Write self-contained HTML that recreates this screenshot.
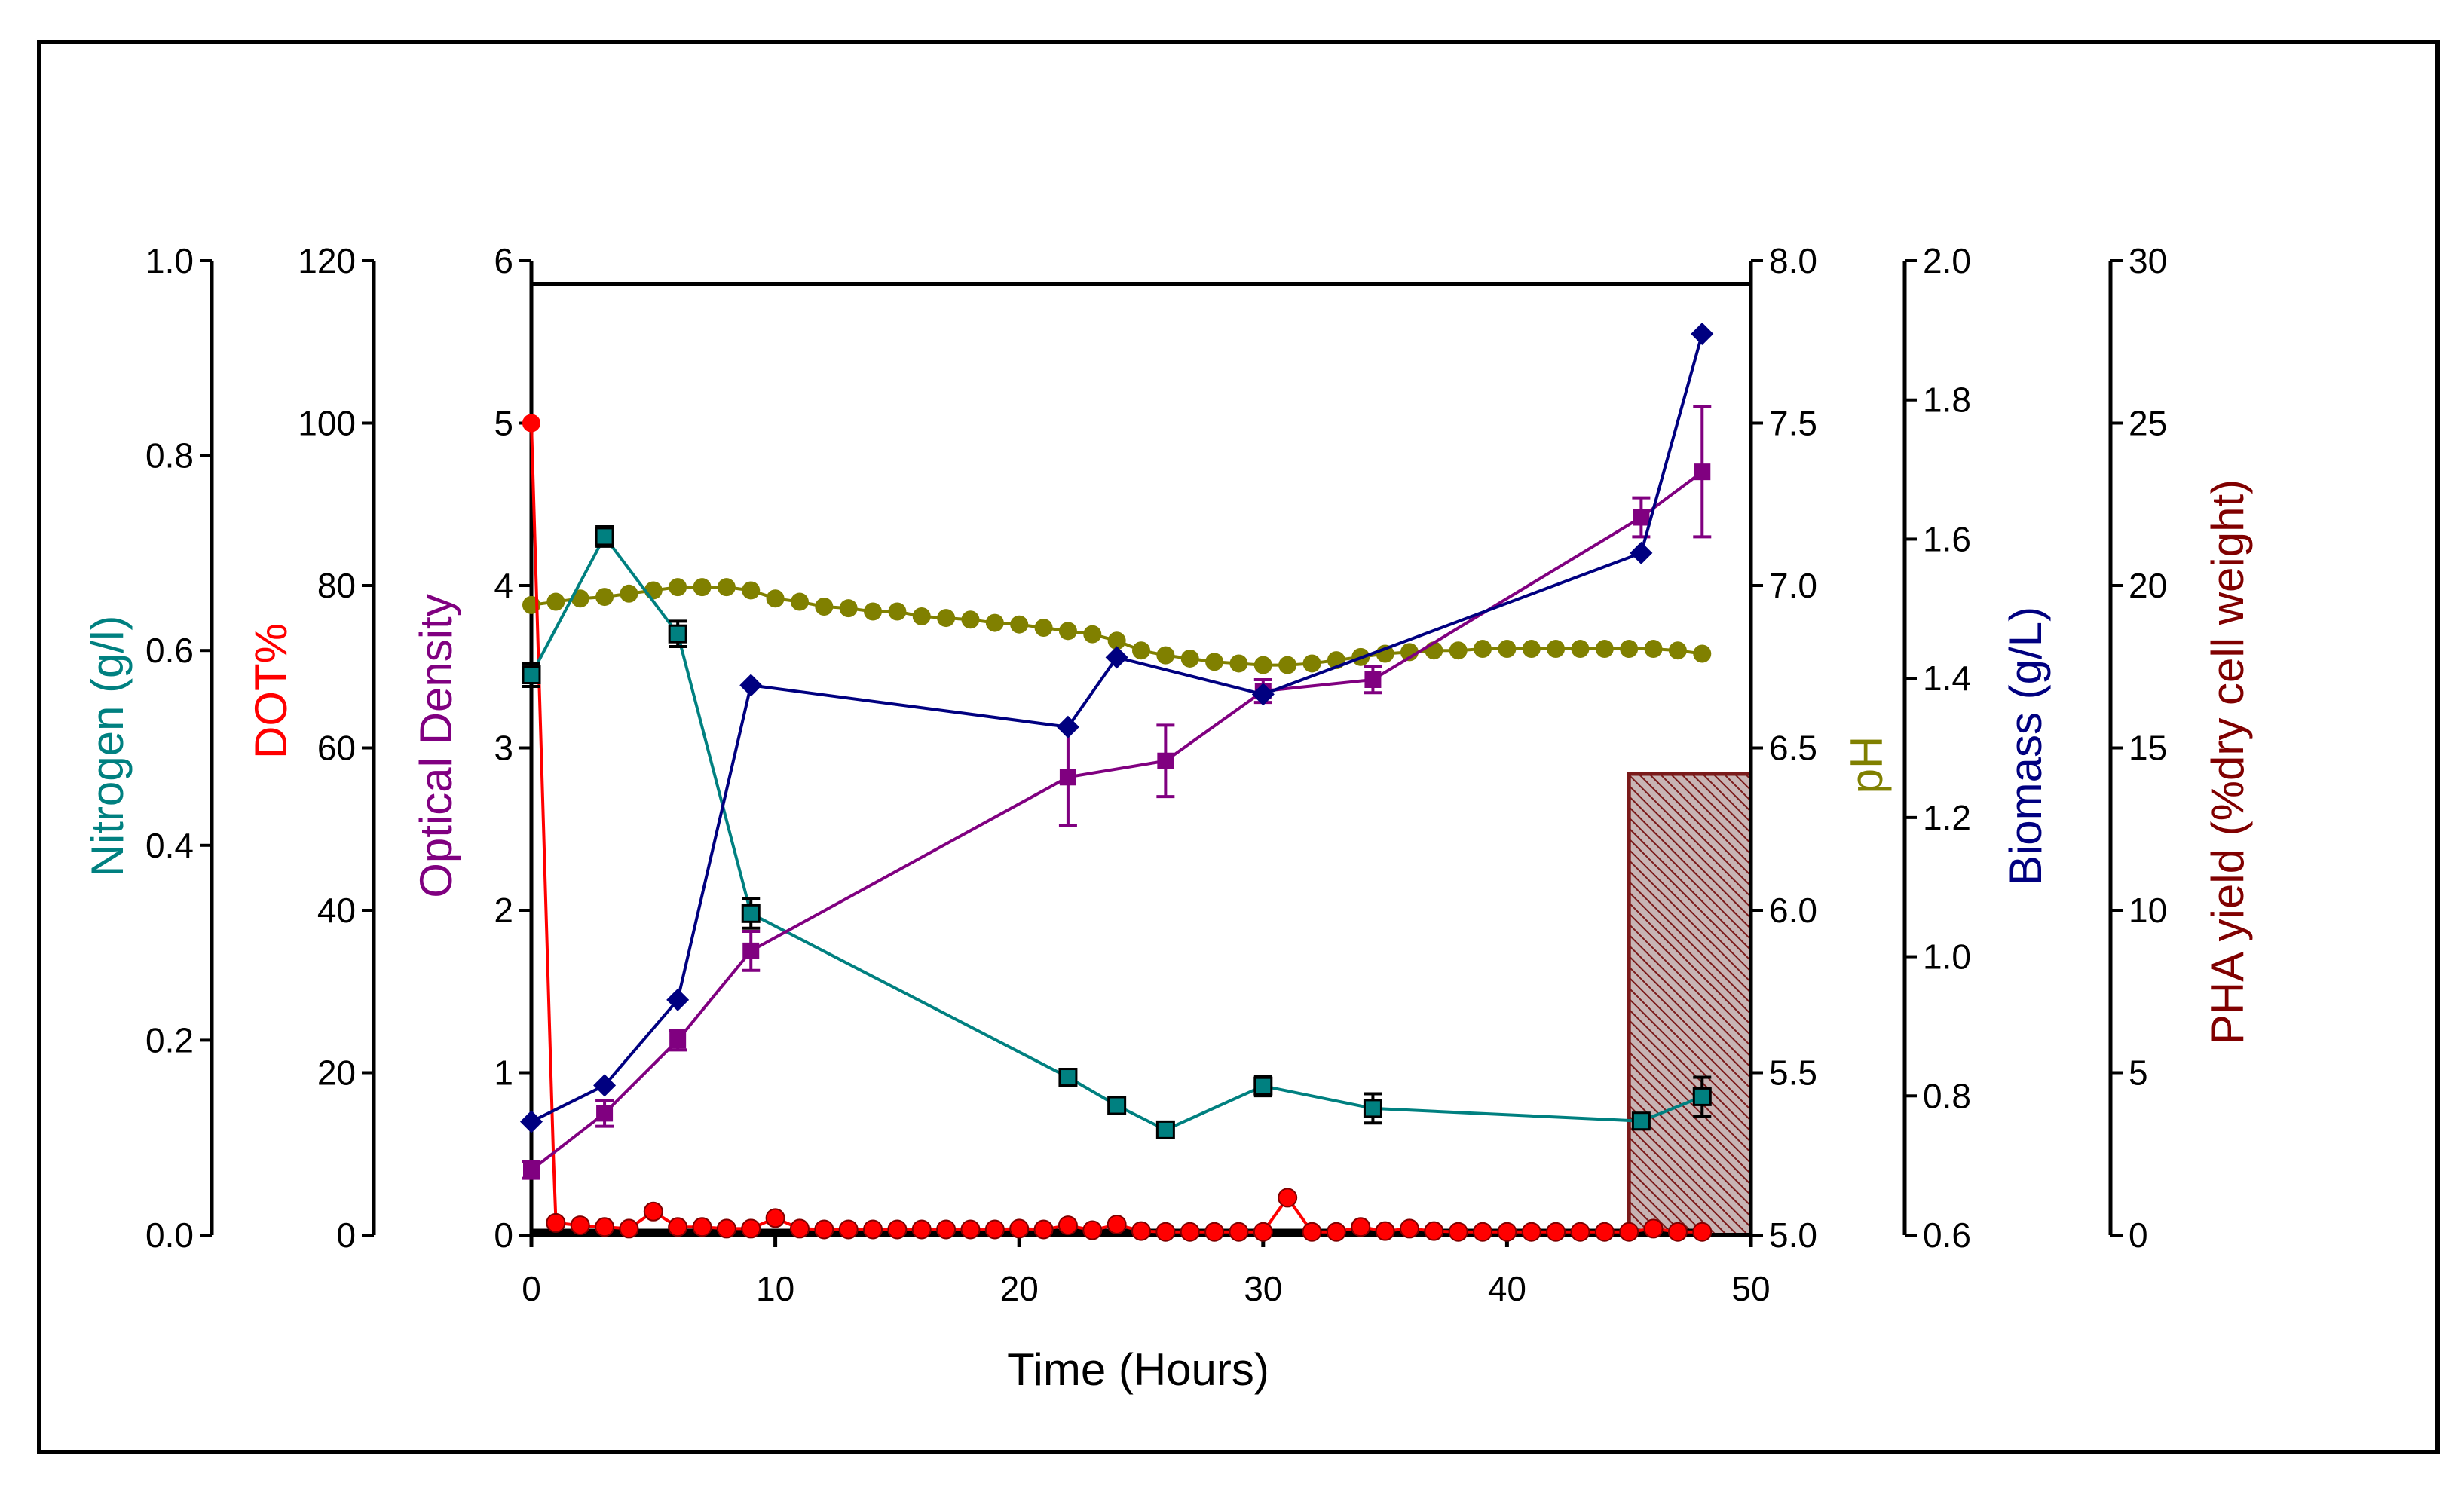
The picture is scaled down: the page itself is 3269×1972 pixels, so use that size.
<!DOCTYPE html>
<html><head><meta charset="utf-8"><style>
html,body{margin:0;padding:0;background:#fff}
svg{display:block}
text{font-family:"Liberation Sans",sans-serif}
</style></head><body>
<svg id="chart" width="3269" height="1972" viewBox="0 0 3269 1972" xmlns="http://www.w3.org/2000/svg">
<defs>
<pattern id="hatch" patternUnits="userSpaceOnUse" width="10" height="10" patternTransform="rotate(-45)">
<rect width="10" height="10" fill="#c8b4b4"/>
<line x1="0" y1="0" x2="0" y2="10" stroke="#7a1a1a" stroke-width="4"/>
</pattern>
</defs>
<rect x="52" y="56" width="3182" height="1871" fill="#fff" stroke="#000" stroke-width="6"/>
<g id="g"></g>
</svg>
<script>
// ---- data ----
const nTimes=[0,3,6,9,22,24,26,30,34.5,45.5,48];
const nitrogen=[0.575,0.717,0.617,0.33,0.162,0.133,0.108,0.153,0.13,0.117,0.142];
const nitrogenErr=[0.012,0.01,0.013,0.015,0.008,0.007,0.007,0.01,0.015,0.008,0.02];
const odTimes=[0,3,6,9,22,26,30,34.5,45.5,48];
const od=[0.4,0.75,1.2,1.75,2.82,2.92,3.35,3.42,4.42,4.7];
const odErr=[0.05,0.08,0.06,0.12,0.3,0.22,0.07,0.08,0.12,0.4];
const bTimes=[0,3,6,9,22,24,30,45.5,48];
const biomass=[0.763,0.815,0.938,1.39,1.33,1.43,1.377,1.58,1.895];
const phTimes=[0,1,2,3,4,5,6,7,8,9,10,11,12,13,14,15,16,17,18,19,20,21,22,23,24,25,26,27,28,29,30,31,32,33,34,35,36,37,38,39,40,41,42,43,44,45,46,47,48];
const ph=[6.94,6.95,6.96,6.965,6.975,6.985,6.995,6.995,6.995,6.985,6.96,6.95,6.935,6.93,6.92,6.92,6.905,6.9,6.895,6.885,6.88,6.87,6.86,6.85,6.83,6.8,6.785,6.775,6.765,6.76,6.755,6.755,6.76,6.77,6.78,6.79,6.795,6.8,6.8,6.805,6.805,6.805,6.805,6.805,6.805,6.805,6.805,6.8,6.79];
const dotLineTimes=[0,0.3,0.6,0.9,1];
const dotLine=[100,70,40,10,2];
const dotTimes=[1,2,3,4,5,6,7,8,9,10,11,12,13,14,15,16,17,18,19,20,21,22,23,24,25,26,27,28,29,30,31,32,33,34,35,36,37,38,39,40,41,42,43,44,45,46,47,48];
const dot=[1.5,1.2,1,0.8,2.9,1,1,0.8,0.8,2.1,0.8,0.7,0.7,0.7,0.7,0.7,0.7,0.7,0.7,0.8,0.7,1.2,0.6,1.3,0.5,0.4,0.4,0.4,0.4,0.4,4.6,0.4,0.4,1,0.5,0.8,0.5,0.4,0.4,0.4,0.4,0.4,0.4,0.4,0.4,0.8,0.4,0.4];
const phaStart=[45];
const phaEnd=[50];
const pha=[14.2];
const xTicks=[0,10,20,30,40,50];
const nTicks=["0.0","0.2","0.4","0.6","0.8","1.0"];
const dotTicks=[0,20,40,60,80,100,120];
const odTicks=[0,1,2,3,4,5,6];
const phTicks=["5.0","5.5","6.0","6.5","7.0","7.5","8.0"];
const bTicks=["0.6","0.8","1.0","1.2","1.4","1.6","1.8","2.0"];
const phaTicks=[0,5,10,15,20,25,30];

// ---- scales ----
const X0=705,X1=2323,Y0=1639,Y1=346,H=Y0-Y1;
const xs=t=>X0+t/50*(X1-X0);
const yN=v=>Y0-v*H, yDot=v=>Y0-v/120*H, yOD=v=>Y0-v/6*H;
const yPH=v=>Y0-(v-5)/3*H, yB=v=>Y0-(v-0.6)/1.4*H, yPHA=v=>Y0-v/30*H;
const NS="http://www.w3.org/2000/svg";
const g=document.getElementById('g');
function el(tag,attrs,parent){const e=document.createElementNS(NS,tag);for(const k in attrs)e.setAttribute(k,attrs[k]);(parent||g).appendChild(e);return e;}
function txt(s,attrs){const e=el('text',attrs);e.textContent=s;return e;}

// PHA bar
for(let i=0;i<pha.length;i++){
  const r=el('rect',{x:xs(phaStart[i]),y:yPHA(pha[i]),width:xs(phaEnd[i])-xs(phaStart[i]),height:Y0-yPHA(pha[i]),fill:'url(#hatch)',stroke:'#7a1a1a','stroke-width':5});
  
  
}

// plot frame
let e=el('line',{x1:X0,y1:377,x2:X1,y2:377,stroke:'#000','stroke-width':6});


// axis builder
function axis(name,x,ticks,yfun,vals,side){
  const a=el('line',{x1:x,y1:Y1,x2:x,y2:Y0,stroke:'#000','stroke-width':5});
  
  
  ticks.forEach((lab,i)=>{
    const y=yfun(vals[i]);
    el('line',{x1:x,y1:y,x2:x+side*16,y2:y,stroke:'#000','stroke-width':4});
    const t=txt(String(lab),{x:x+side*24,y:y+16,'font-size':46,'text-anchor':side<0?'end':'start',fill:'#000'});
    
    
  });
}
axis('nitrogen',281,nTicks,yN,nTicks.map(Number),-1);
axis('dot',496,dotTicks,yDot,dotTicks,-1);
axis('optical-density',X0,odTicks,yOD,odTicks,-1);
axis('ph',X1,phTicks,yPH,phTicks.map(Number),1);
axis('biomass',2527,bTicks,yB,bTicks.map(Number),1);
axis('pha',2800,phaTicks,yPHA,phaTicks,1);

// x axis
e=el('line',{x1:X0,y1:Y0,x2:X1,y2:Y0,stroke:'#000','stroke-width':6});

xTicks.forEach(v=>{
  el('line',{x1:xs(v),y1:Y0,x2:xs(v),y2:Y0+16,stroke:'#000','stroke-width':5});
  const t=txt(String(v),{x:xs(v),y:1726,'font-size':46,'text-anchor':'middle'});
  
  
});
e=el('line',{x1:X0,y1:Y0-4,x2:xs(48),y2:Y0-4,stroke:'#000','stroke-width':9});

// titles
function title(s,x,y,color,rot,name){
  const t=txt(s,{x:x,y:y,'font-size':60,fill:color,'text-anchor':'middle',transform:rot?`rotate(-90 ${x} ${y})`:''});
  
  
}
title('Nitrogen (g/l)',163,990,'#008080',true,'nitrogen-axis-title');
title('DOT%',380,917,'#ff0000',true,'dot-axis-title');
title('Optical Density',599,990,'#800080',true,'od-axis-title');
title('pH',2497,1015,'#808000',true,'ph-axis-title');
title('Biomass (g/L)',2708,990,'#000080',true,'biomass-axis-title');
title('PHA yield (%dry cell weight)',2976,1011,'#800000',true,'pha-axis-title');
title('Time (Hours)',1510,1838,'#000',false,'x-axis-title');

// series
function series(name,times,vals,yfun,color,shape,err,lineOnly){
  const pts=times.map((t,i)=>xs(t)+','+yfun(vals[i])).join(' ');
  const p=el('polyline',{points:pts,fill:'none',stroke:color,'stroke-width':4});
  
  
  if(lineOnly)return;
  times.forEach((t,i)=>{
    const x=xs(t),y=yfun(vals[i]);
    if(err){
      const ya=yfun(vals[i]+err[i]),yb=yfun(vals[i]-err[i]);
      const ec=name==='nitrogen'?'#000':color;
      el('line',{x1:x,y1:ya,x2:x,y2:yb,stroke:ec,'stroke-width':4});
      el('line',{x1:x-12,y1:ya,x2:x+12,y2:ya,stroke:ec,'stroke-width':4});
      el('line',{x1:x-12,y1:yb,x2:x+12,y2:yb,stroke:ec,'stroke-width':4});
    }
    let m;
    if(shape==='sq') m=el('rect',{x:x-11,y:y-11,width:22,height:22,fill:color,stroke:'#000','stroke-width':name==='nitrogen'?3:0});
    else if(shape==='dia') m=el('polygon',{points:`${x},${y-15} ${x+15},${y} ${x},${y+15} ${x-15},${y}`,fill:color});
    else m=el('circle',{cx:x,cy:y,r:12,fill:color,stroke:name==='dot'?'#800000':'none','stroke-width':2});
    
    
  });
}
series('ph',phTimes,ph,yPH,'#808000','circ');
series('dot-drop',dotLineTimes,dotLine,yDot,'#ff0000','circ',null,true);
series('dot',dotTimes,dot,yDot,'#ff0000','circ');
(function(){const m=el('circle',{cx:xs(0),cy:yDot(100),r:12,fill:'#ff0000'});})();
series('nitrogen',nTimes,nitrogen,yN,'#008080','sq',nitrogenErr);
series('od',odTimes,od,yOD,'#800080','sq',odErr);
series('biomass',bTimes,biomass,yB,'#000080','dia');
</script>
</body></html>
